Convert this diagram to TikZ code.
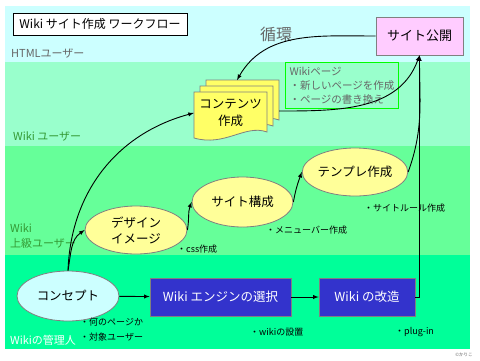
\documentclass[tikz,border=0pt]{standalone}
\usepackage{fontspec}
\setmainfont{Noto Sans CJK JP}
\usetikzlibrary{shapes.geometric}
\definecolor{bandcyan}{HTML}{CCFFFF}
\definecolor{bandlight}{HTML}{99FFCC}
\definecolor{bandmid}{HTML}{66FF99}
\definecolor{bandlow}{HTML}{00FF99}
\definecolor{ovalyellow}{HTML}{FFFF99}
\definecolor{pageyellow}{HTML}{FFFF66}
\definecolor{pubpink}{HTML}{FFCCFF}
\definecolor{engineblue}{HTML}{3333CC}
\definecolor{rolegreen}{HTML}{339933}
\definecolor{textgray}{HTML}{666666}
\begin{document}
\begin{tikzpicture}[x=1pt, y=-1pt,
  oval/.style={ellipse, draw=gray, line width=0.8pt, fill=ovalyellow, minimum width=102pt, minimum height=48pt, inner sep=0pt, align=center, font=\fontsize{12.5}{16}\selectfont},
  engine/.style={draw=gray, line width=0.8pt, fill=engineblue, text=white, minimum height=38pt, inner sep=0pt, font=\fontsize{12.5}{15}\selectfont},
  note/.style={anchor=west, inner sep=0pt, align=left, font=\fontsize{9}{15}\selectfont},
  role/.style={anchor=west, inner sep=0pt, align=left, font=\fontsize{11}{15}\selectfont},
  arrow/.style={->, >=latex, line width=0.9pt}
]
\useasboundingbox (0,0) rectangle (480,360);
\fill[white] (0,0) rectangle (480,360);

% bands
\fill[bandcyan] (5,6) rectangle (470,62);
\fill[bandlight] (5,62) rectangle (470,146);
\fill[bandmid] (5,146) rectangle (470,255);
\fill[bandlow] (5,255) rectangle (470,349);

\node[role, text=textgray] (html) at (11,53) {HTMLユーザー};
\node[role, text=rolegreen] (wikiuser) at (13,136) {Wiki ユーザー};
\node[role, text=rolegreen] (advuser) at (10,236) {Wiki\\上級ユーザー};
\node[role, text=white] (admin) at (10,340) {Wikiの管理人};

\node[draw, line width=0.8pt, fill=white, minimum width=174pt, minimum height=22pt, inner sep=0pt, font=\fontsize{12}{14}\selectfont] (title) at (100,24) {Wiki サイト作成 ワークフロー};
\node[text=textgray, inner sep=0pt, font=\fontsize{16}{18}\selectfont] (loop) at (276,34) {循環};

% nodes
\node[draw=gray, line width=0.8pt, fill=pubpink, minimum width=87pt, minimum height=38pt, inner sep=0pt, font=\fontsize{13}{15}\selectfont] (pub) at (419.5,36) {サイト公開};
\node[draw=green, line width=0.9pt, anchor=north west, minimum width=113pt, minimum height=46pt, inner sep=4pt, align=left, text=textgray, font=\fontsize{10.5}{14}\selectfont] (wikipage) at (285,62) {Wikiページ\\・新しいページを作成\\・ページの書き換え};

\foreach \d in {12,6,0}
  \draw[gray, line width=0.8pt, fill=pageyellow, shift={(\d,-\d)}] (194,92) -- (267,92) -- (267,132) .. controls (245,124) and (225,147) .. (194,138) -- cycle;
\node[minimum width=73pt, minimum height=44pt, inner sep=0pt, align=center, font=\fontsize{12.5}{17}\selectfont] (contents) at (230.5,113) {コンテンツ\\作成};
\coordinate (contentsTop) at (237,80);
\coordinate (contentsOut) at (279,111);

\node[oval] (design) at (136,230) {デザイン\\イメージ};
\node[oval, minimum width=101pt, minimum height=50pt] (site) at (242.5,202) {サイト構成};
\node[oval] (template) at (355,172) {テンプレ作成};
\node[oval, fill=bandcyan, minimum height=50pt] (concept) at (68,296) {コンセプト};
\node[engine, minimum width=141pt] (engine) at (220.5,297) {Wiki エンジンの選択};
\node[engine, minimum width=96pt] (kaizo) at (367,297) {Wiki の改造};

% notes
\node[note] (css) at (177,249) {・css作成};
\node[note] (menu) at (266,230) {・メニューバー作成};
\node[note] (rule) at (364,208) {・サイトルール作成};
\node[note] (aim) at (80,330) {・何のページか\\・対象ユーザー};
\node[note] (setup) at (250,332) {・wikiの設置};
\node[note] (plugin) at (395,332) {・plug-in};
\node[inner sep=0pt, text=textgray, font=\fontsize{4.5}{5}\selectfont] (credit) at (464,355) {©かりこ};

% connectors
\draw[arrow] (concept.north) to[out=88,in=195] (contents.west);
\draw[arrow] (concept.north) to[out=80,in=215] (design.west);
\draw[arrow] (design.east) to[out=80,in=250] (site.west);
\draw[arrow] (site.east) to[out=80,in=250] (template.west);
\draw[arrow] (template.east) to[out=70,in=-90] (pub.south);
\draw[arrow] (kaizo.east) -| (pub.south);
\draw[arrow] (contentsOut) to[out=0,in=250] (pub.south);
\draw[arrow] (pub.west) to[out=180,in=60] (contentsTop);
\draw[arrow] (concept) -- (engine);
\draw[arrow] (engine) -- (kaizo);
\end{tikzpicture}
\end{document}
